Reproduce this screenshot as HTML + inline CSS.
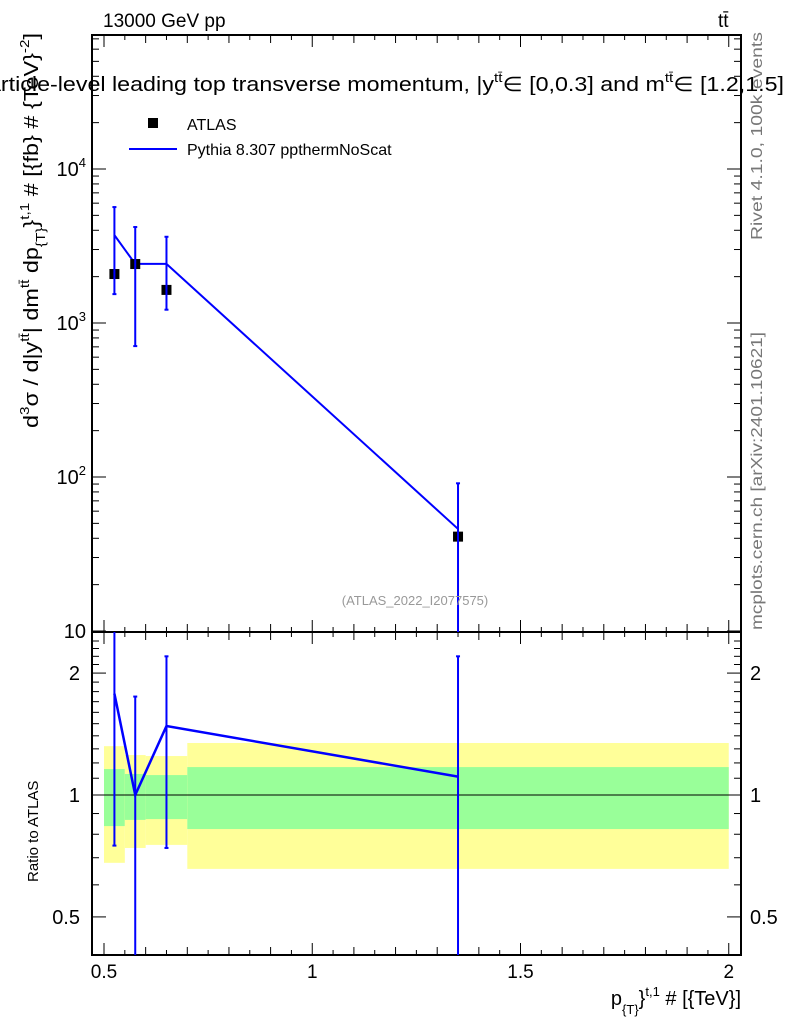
<!DOCTYPE html>
<html><head><meta charset="utf-8"><style>
html,body{margin:0;padding:0;background:#fff;}
svg{display:block;font-family:"Liberation Sans",sans-serif;}
</style></head><body>
<svg id="c" width="786" height="1024" xmlns="http://www.w3.org/2000/svg">
<g id="bands"></g>
<g id="grid"></g>
<g id="marks"></g>
<text x="103" y="27" font-size="19">13000 GeV pp</text>
<text x="718" y="27" font-size="19">tt̄</text>
<text x="-12" y="91" font-size="20" textLength="796" lengthAdjust="spacingAndGlyphs">article-level leading top transverse momentum, |y<tspan font-size="13" dy="-9">tt̄</tspan><tspan dy="9">∈ [0,0.3] and m</tspan><tspan font-size="13" dy="-9">tt̄</tspan><tspan dy="9">∈ [1.2,1.5]</tspan></text>
<text x="415" y="605" font-size="13" fill="#999" text-anchor="middle">(ATLAS_2022_I2077575)</text>
<text transform="translate(762,240) rotate(-90)" font-size="16" fill="#777" textLength="208" lengthAdjust="spacingAndGlyphs">Rivet 4.1.0,  100k events</text>
<text transform="translate(762,630) rotate(-90)" font-size="16" fill="#777" textLength="298" lengthAdjust="spacingAndGlyphs">mcplots.cern.ch [arXiv:2401.10621]</text>
<text transform="translate(38,428) rotate(-90)" font-size="20" textLength="395" lengthAdjust="spacingAndGlyphs">d<tspan font-size="13" dy="-9">3</tspan><tspan dy="9">σ / d|y</tspan><tspan font-size="13" dy="-9">tt̄</tspan><tspan dy="9">| dm</tspan><tspan font-size="13" dy="-9">tt̄</tspan><tspan dy="9"> dp</tspan><tspan font-size="13" dy="7">{T}</tspan><tspan dy="-7">}</tspan><tspan font-size="13" dy="-9">t,1</tspan><tspan dy="9"> # [{fb} # {TeV}</tspan><tspan font-size="13" dy="-9">-2</tspan><tspan dy="9">]</tspan></text>
<text transform="translate(38,882) rotate(-90)" font-size="15">Ratio to ATLAS</text>
<text x="741" y="1005" font-size="20" text-anchor="end">p<tspan font-size="13" dy="9">{T}</tspan><tspan dy="-9">}</tspan><tspan font-size="13" dy="-9">t,1</tspan><tspan dy="9"> # [{TeV}]</tspan></text>
<g>
<rect x="148" y="118" width="10" height="10" fill="#000"/>
<text x="187" y="130" font-size="16">ATLAS</text>
<line x1="129" y1="149" x2="177" y2="149" stroke="#00f" stroke-width="2"/>
<text x="187" y="155" font-size="16">Pythia 8.307 ppthermNoScat</text>
</g>
</svg>
<script>
const binLo=[0.5,0.55,0.6,0.7];
const binHi=[0.55,0.6,0.7,2.0];
const xCenters=[0.525,0.575,0.65,1.35];
const atlasVals=[2080,2415,1640,41];
const mcVals=[3720,2420,2420,46];
const mcErrUp=[5660,4200,3630,91];
const mcErrDn=[1540,708,1220,1];
const ratioVals=[1.78,1.0,1.48,1.11];
const ratioErrUp=[3,1.75,2.2,2.2];
const ratioErrDn=[0.75,0.1,0.74,0.1];
const yellowUp=[1.32,1.255,1.248,1.344];
const yellowDn=[0.68,0.74,0.753,0.657];
const greenUp=[1.159,1.127,1.12,1.172];
const greenDn=[0.838,0.868,0.872,0.824];
const mainTickLabels=[10,100,1000,10000];
const ratioTickVals=[0.5,1,2];
const xTickLabels=[0.5,1,1.5,2];

const NS="http://www.w3.org/2000/svg";
const L=92,R=741,T=35,MB=632,RB=955;
const X=v=>104+(v-0.5)*416.5;
const Y=v=>631-154*Math.log10(v/10);
const YR=v=>795-405*Math.log10(v);
const clampM=y=>Math.max(T,Math.min(MB,y));
const clampR=y=>Math.max(MB,Math.min(RB,y));
function mk(p,tag,a){const e=document.createElementNS(NS,tag);for(const k in a)e.setAttribute(k,a[k]);p.appendChild(e);return e;}
const bands=document.getElementById('bands'),grid=document.getElementById('grid'),marks=document.getElementById('marks');

for(let i=0;i<binLo.length;i++){
 const y=mk(bands,'rect',{x:X(binLo[i]),y:YR(yellowUp[i]),width:X(binHi[i])-X(binLo[i]),height:YR(yellowDn[i])-YR(yellowUp[i]),fill:'#ffff99'});
 
 
 const g=mk(bands,'rect',{x:X(binLo[i]),y:YR(greenUp[i]),width:X(binHi[i])-X(binLo[i]),height:YR(greenDn[i])-YR(greenUp[i]),fill:'#99ff99'});
 
 
}
mk(grid,'line',{x1:L,x2:R,y1:YR(1),y2:YR(1),stroke:'#000','stroke-width':1});
mk(grid,'rect',{x:L,y:T,width:R-L,height:MB-T,fill:'none',stroke:'#000','stroke-width':2});
mk(grid,'rect',{x:L,y:MB,width:R-L,height:RB-MB,fill:'none',stroke:'#000','stroke-width':2});
for(let v=0.5;v<=2.0001;v+=0.05){
 const big=Math.abs(v*10-Math.round(v*10))<1e-6 ? (Math.abs(v*2-Math.round(v*2))<1e-6?12:8):5;
 const x=X(v);
 [T,MB].forEach(y0=>mk(grid,'line',{x1:x,x2:x,y1:y0,y2:y0+big,stroke:'#000'}));
 [MB,RB].forEach(y0=>mk(grid,'line',{x1:x,x2:x,y1:y0,y2:y0-big,stroke:'#000'}));
}
xTickLabels.forEach(v=>{const t=mk(grid,'text',{x:X(v),y:978,'font-size':19,'text-anchor':'middle'});t.textContent=v;
 
 });
for(let d=1;d<=4;d++)for(let m=1;m<10;m++){const v=m*Math.pow(10,d);const y=Y(v);if(y<T||y>MB)continue;const w=m==1?14:7;
 mk(grid,'line',{x1:L,x2:L+w,y1:y,y2:y,stroke:'#000'});mk(grid,'line',{x1:R,x2:R-w,y1:y,y2:y,stroke:'#000'});}
mainTickLabels.forEach(v=>{const e=Math.round(Math.log10(v));const t=mk(grid,'text',{x:86,y:Y(v)+7,'font-size':20,'text-anchor':'end'});
 if(e==1)t.textContent='10';else{t.textContent='10';const s=mk(t,'tspan',{'font-size':13,dy:-9});s.textContent=e;}
 
 });
for(let v=0.4;v<=2.5;v+=0.1){const y=YR(v);if(y<MB||y>RB)continue;const maj=ratioTickVals.some(r=>Math.abs(r-v)<1e-6);const w=maj?14:7;
 mk(grid,'line',{x1:L,x2:L+w,y1:y,y2:y,stroke:'#000'});mk(grid,'line',{x1:R,x2:R-w,y1:y,y2:y,stroke:'#000'});}
ratioTickVals.forEach(v=>{[[80,'end'],[750,'start']].forEach(([x,a])=>{const t=mk(grid,'text',{x:x,y:YR(v)+7,'font-size':20,'text-anchor':a});t.textContent=v;
 
 });});

let pts=[];for(let i=0;i<xCenters.length;i++)pts.push(X(xCenters[i])+','+Y(mcVals[i]));
const ml=mk(marks,'polyline',{points:pts.join(' '),fill:'none',stroke:'#00f','stroke-width':2});


for(let i=0;i<xCenters.length;i++){
 const x=X(xCenters[i]);
 const r=mk(marks,'rect',{x:x-5,y:Y(atlasVals[i])-5,width:10,height:10,fill:'#000'});
 
 
 const y1=clampM(Y(mcErrUp[i])),y2=clampM(Y(mcErrDn[i]));
 const e=mk(marks,'line',{x1:x,x2:x,y1:y1,y2:y2,stroke:'#00f','stroke-width':2});
 
 
 if(y1>T)mk(marks,'line',{x1:x-2,x2:x+2,y1:y1,y2:y1,stroke:'#00f','stroke-width':2});
 if(y2<MB)mk(marks,'line',{x1:x-2,x2:x+2,y1:y2,y2:y2,stroke:'#00f','stroke-width':2});
}
pts=[];for(let i=0;i<xCenters.length;i++)pts.push(X(xCenters[i])+','+YR(ratioVals[i]));
const rl=mk(marks,'polyline',{points:pts.join(' '),fill:'none',stroke:'#00f','stroke-width':2.5});


for(let i=0;i<xCenters.length;i++){
 const x=X(xCenters[i]);const y1=clampR(YR(ratioErrUp[i])),y2=clampR(YR(ratioErrDn[i]));
 const e=mk(marks,'line',{x1:x,x2:x,y1:y1,y2:y2,stroke:'#00f','stroke-width':2});
 
 
 if(y1>MB)mk(marks,'line',{x1:x-2,x2:x+2,y1:y1,y2:y1,stroke:'#00f','stroke-width':2});
 if(y2<RB)mk(marks,'line',{x1:x-2,x2:x+2,y1:y2,y2:y2,stroke:'#00f','stroke-width':2});
}
</script>
</body></html>
